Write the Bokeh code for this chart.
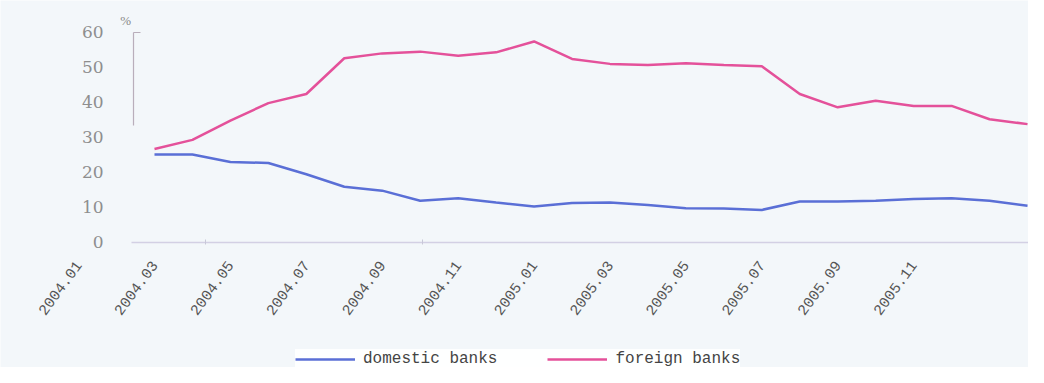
from bokeh.plotting import figure
from bokeh.models import LinearAxis, Range1d, FixedTicker, Legend, LegendItem, Label
from bokeh.embed import file_html
from bokeh.resources import INLINE

# ---- data ----
tick_labels = ["2004.01", "2004.03", "2004.05", "2004.07", "2004.09", "2004.11",
               "2005.01", "2005.03", "2005.05", "2005.07", "2005.09", "2005.11"]
domestic = [25.1, 25.1, 23.0, 22.7, 19.5, 15.9, 14.8, 11.9, 12.6, 11.4, 10.3, 11.3,
            11.4, 10.7, 9.8, 9.7, 9.3, 11.7, 11.7, 11.9, 12.4, 12.6, 11.9, 10.5]
foreign = [26.7, 29.3, 34.8, 39.8, 42.4, 52.6, 54.0, 54.5, 53.3, 54.3, 57.4, 52.4,
           51.0, 50.7, 51.2, 50.7, 50.3, 42.4, 38.6, 40.5, 39.0, 39.0, 35.2, 33.8]
y_ticks = [0, 10, 20, 30, 40, 50, 60]

idx = list(range(len(domestic)))
# labels sit two months to the left of the series start, every second month
tick_pos = [2 * k - 2 for k in range(len(tick_labels))]

BG = "#f3f7fa"
BLUE = "#5a6fd6"
PINK = "#e4519a"
AXIS_X = -0.55  # where the value axis stands, in month-index units

p = figure(width=1028, height=367, output_backend="svg", toolbar_location=None,
           x_range=Range1d(-4.057, 23.026), y_range=Range1d(-35.7, 69.1),
           x_axis_location=None, y_axis_location=None, title=None,
           min_border=0, min_border_left=0, min_border_right=0,
           min_border_top=0, min_border_bottom=0)
p.background_fill_color = BG
p.border_fill_color = BG
p.outline_line_color = None
p.grid.grid_line_color = None

# y axis labels, standing inside the frame
ya = LinearAxis(fixed_location=AXIS_X, ticker=FixedTicker(ticks=y_ticks),
                axis_line_color=None, major_tick_line_color=None,
                minor_tick_line_color=None, major_tick_out=0, major_tick_in=0,
                major_label_standoff=30,
                major_label_text_font="DejaVu Serif",
                major_label_text_font_size="17px",
                major_label_text_color="#8e8e8e")
p.add_layout(ya, "left")

# short vertical value-axis line at the top only, with a small inward tick at 60
ya_line = LinearAxis(fixed_location=AXIS_X, bounds=(33.4, 60),
                     ticker=FixedTicker(ticks=[60]),
                     major_label_overrides={60: ""},
                     axis_line_color="#b9aebb", axis_line_width=1.2,
                     major_tick_line_color="#b9aebb", minor_tick_line_color=None,
                     major_tick_out=0, major_tick_in=7, major_label_standoff=0,
                     major_label_text_font_size="2px")
p.add_layout(ya_line, "left")

# x axis line at zero (only under the series) with two faint ticks
x_line_ticks = [1.35, 7.05]
xa_line = LinearAxis(fixed_location=0, bounds=(-0.6, 23.03),
                     ticker=FixedTicker(ticks=x_line_ticks),
                     major_label_overrides={t: "" for t in x_line_ticks},
                     axis_line_color="#d3d0e4", axis_line_width=1.5,
                     major_tick_line_color="#c8c8d8", minor_tick_line_color=None,
                     major_tick_out=2, major_tick_in=3, major_label_standoff=0,
                     major_label_text_font_size="2px")
p.add_layout(xa_line, "below")

# x axis labels
xa_lab = LinearAxis(fixed_location=0, ticker=FixedTicker(ticks=tick_pos),
                    major_label_overrides={pos: lab for pos, lab in zip(tick_pos, tick_labels)},
                    major_label_orientation=0.94,
                    axis_line_color=None, major_tick_line_color=None,
                    minor_tick_line_color=None, major_tick_out=0, major_tick_in=0,
                    major_label_standoff=20,
                    major_label_text_font="Liberation Mono",
                    major_label_text_font_size="15px",
                    major_label_text_color="#555555")
p.add_layout(xa_lab, "below")

r_dom = p.line(idx, domestic, line_color=BLUE, line_width=2.5)
r_for = p.line(idx, foreign, line_color=PINK, line_width=2.5)

# "%" unit marker above the value axis
p.add_layout(Label(x=AXIS_X - 0.35, y=61.2, text="%", text_font="Liberation Serif",
                   text_font_size="13px", text_color="#888888"))

legend = Legend(items=[LegendItem(label="domestic banks", renderers=[r_dom]),
                       LegendItem(label="foreign banks", renderers=[r_for])],
                orientation="horizontal", location=(295, -2),
                background_fill_color="#ffffff", background_fill_alpha=0.9,
                border_line_color=None,
                label_text_font="Liberation Mono", label_text_font_size="16px",
                label_text_color="#444444",
                glyph_width=60, label_standoff=8, spacing=50,
                padding=5, margin=0)
p.add_layout(legend, "center")

open("out.html", "w").write(file_html(p, INLINE))
